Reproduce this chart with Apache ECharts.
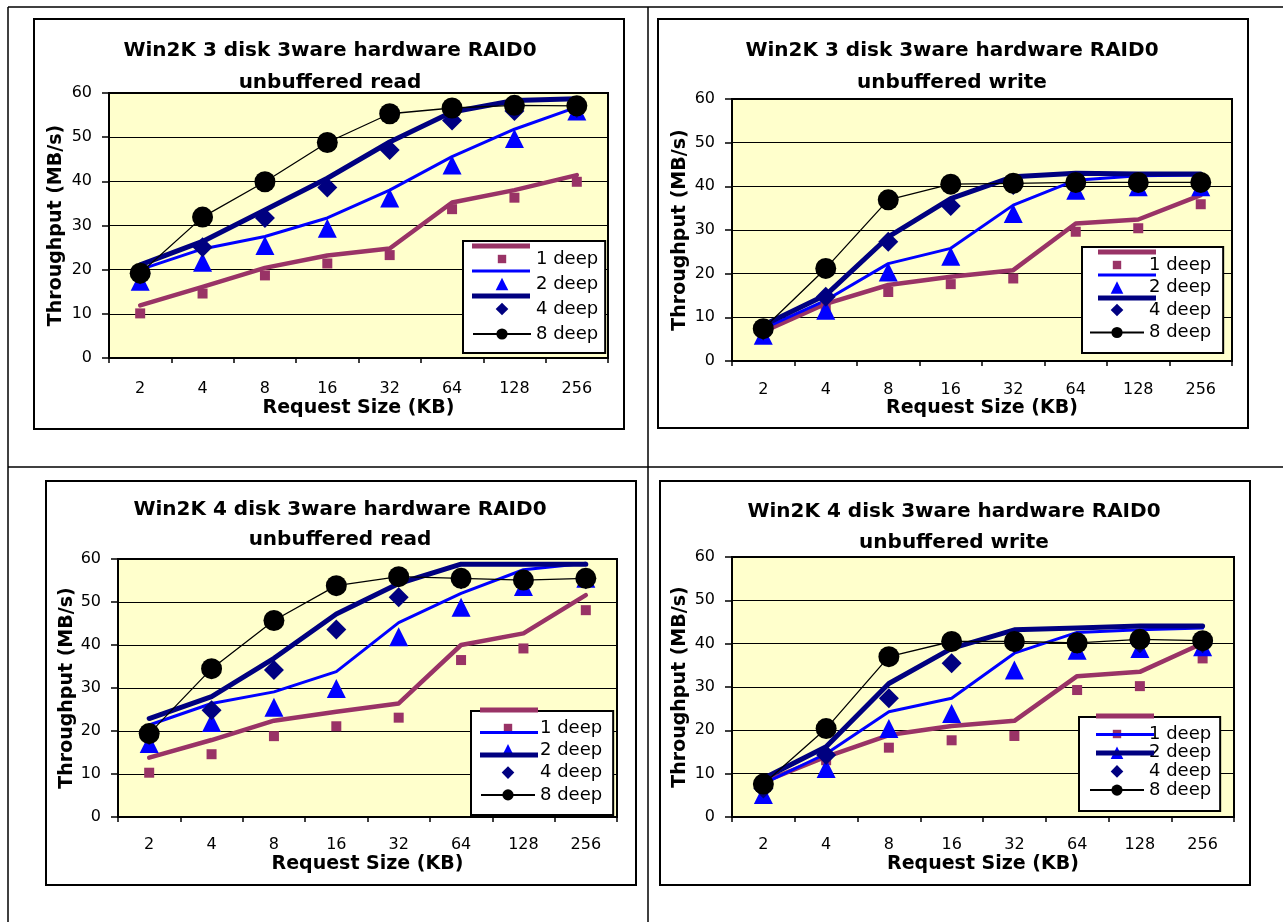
<!DOCTYPE html>
<html>
<head>
<meta charset="utf-8">
<script src="https://cdn.jsdelivr.net/npm/echarts/dist/echarts.min.js"></script>
<style>
html,body{margin:0;padding:0;background:#fff;}
#c{position:absolute;left:0;top:0;width:1283px;height:922px;}
</style>
</head>
<body>
<div id="c"></div>
<script>
// ---------------- DATA ----------------
const categories = ['2', '4', '8', '16', '32', '64', '128', '256'];
const depthNames = ['1 deep', '2 deep', '4 deep', '8 deep'];
const yMin = 0, yMax = 60, yStep = 10;
const xAxisName = 'Request Size (KB)';
const yAxisName = 'Throughput (MB/s)';
const chartTitles = [
  'Win2K 3 disk 3ware hardware RAID0\nunbuffered read',
  'Win2K 3 disk 3ware hardware RAID0\nunbuffered write',
  'Win2K 4 disk 3ware hardware RAID0\nunbuffered read',
  'Win2K 4 disk 3ware hardware RAID0\nunbuffered write'
];

// 3 disk, read
const r3_1deep_pts = [10.1, 14.6, 18.7, 21.4, 23.3, 33.7, 36.3, 39.9];
const r3_1deep_fit = [11.9, 16.1, 20.4, 23.2, 24.8, 35.2, 38.0, 41.4];
const r3_2deep_pts = [17.4, 21.7, 25.5, 29.4, 36.2, 43.7, 49.7, 55.9];
const r3_2deep_fit = [20.0, 24.7, 27.5, 31.7, 38.0, 45.6, 51.8, 56.8];
const r3_4deep_pts = [18.9, 25.1, 31.7, 38.6, 47.1, 53.8, 55.9, 56.6];
const r3_4deep_fit = [21.1, 26.4, 33.5, 40.7, 48.9, 55.7, 58.3, 58.7];
const r3_8deep     = [19.2, 31.9, 39.9, 48.8, 55.3, 56.6, 57.2, 57.1];

// 3 disk, write
const w3_1deep_pts = [7.0, 12.4, 15.8, 17.6, 18.9, 29.6, 30.4, 35.9];
const w3_1deep_fit = [6.7, 13.1, 17.4, 19.3, 20.8, 31.5, 32.4, 38.0];
const w3_2deep_pts = [5.9, 11.6, 20.4, 24.0, 33.8, 39.1, 39.9, 39.9];
const w3_2deep_fit = [7.4, 13.9, 22.3, 25.8, 35.7, 41.4, 42.4, 42.6];
const w3_4deep_pts = [7.0, 14.7, 27.3, 35.5, 40.3, 40.8, 40.7, 40.8];
const w3_4deep_fit = [8.2, 15.1, 28.4, 37.2, 42.2, 43.0, 42.8, 42.8];
const w3_8deep     = [7.4, 21.2, 36.9, 40.5, 40.7, 40.9, 40.9, 40.9];

// 4 disk, read
const r4_1deep_pts = [10.3, 14.6, 18.8, 21.1, 23.1, 36.5, 39.2, 48.1];
const r4_1deep_fit = [13.8, 17.9, 22.4, 24.5, 26.4, 40.0, 42.7, 51.6];
const r4_2deep_pts = [17.1, 22.0, 25.5, 29.9, 41.9, 48.8, 53.6, 55.5];
const r4_2deep_fit = [21.4, 26.4, 29.1, 33.8, 45.2, 52.0, 57.5, 59.0];
const r4_4deep_pts = [19.0, 24.8, 34.2, 43.6, 51.1, 55.3, 55.1, 55.3];
const r4_4deep_fit = [22.9, 28.0, 36.9, 47.2, 54.3, 58.8, 58.8, 58.8];
const r4_8deep     = [19.4, 34.5, 45.7, 53.8, 55.9, 55.5, 55.1, 55.5];

// 4 disk, write
const w4_1deep_pts = [7.3, 13.1, 16.0, 17.7, 18.7, 29.3, 30.2, 36.6];
const w4_1deep_fit = [8.1, 13.9, 18.9, 21.0, 22.2, 32.5, 33.5, 40.1];
const w4_2deep_pts = [5.2, 11.2, 20.4, 23.9, 33.9, 38.5, 38.9, 39.3];
const w4_2deep_fit = [7.7, 14.6, 24.3, 27.4, 37.8, 42.6, 43.2, 43.6];
const w4_4deep_pts = [6.6, 14.3, 27.4, 35.5, 40.1, 39.9, 40.1, 40.1];
const w4_4deep_fit = [8.9, 16.2, 30.8, 38.9, 43.2, 43.6, 44.1, 44.1];
const w4_8deep     = [7.6, 20.4, 37.0, 40.5, 40.5, 40.2, 41.0, 40.7];

const panelData = [
  {pts: [r3_1deep_pts, r3_2deep_pts, r3_4deep_pts], fit: [r3_1deep_fit, r3_2deep_fit, r3_4deep_fit], d8: r3_8deep},
  {pts: [w3_1deep_pts, w3_2deep_pts, w3_4deep_pts], fit: [w3_1deep_fit, w3_2deep_fit, w3_4deep_fit], d8: w3_8deep},
  {pts: [r4_1deep_pts, r4_2deep_pts, r4_4deep_pts], fit: [r4_1deep_fit, r4_2deep_fit, r4_4deep_fit], d8: r4_8deep},
  {pts: [w4_1deep_pts, w4_2deep_pts, w4_4deep_pts], fit: [w4_1deep_fit, w4_2deep_fit, w4_4deep_fit], d8: w4_8deep}
];

// ---------------- LAYOUT / STYLE ----------------
const FONT = 'DejaVu Sans';
const colors = ['#993366', '#0000FF', '#000080', '#000000'];
const fitWidths = [4.5, 3, 5];
const ptSymbols = ['rect', 'triangle', 'diamond'];
const ptSizes = [10, 19, 20];

const layouts = [
  {frame: [34, 19, 590, 410], grid: {left: 109, top: 93, width: 499, height: 265},
   titleX: 330, titleTop: 34.5, titleLH: 32, yNameGap: 43, xNameGap: 40.5, xLabelMargin: 23,
   legA: {left: 463, top: 241, itemWidth: 58, itemGap: 7, padding: [9, 7, 10, 9]},
   legB: {left: 472, top: 243.5, itemGap: 20}},
  {frame: [658, 19, 590, 409], grid: {left: 732, top: 99, width: 500, height: 262},
   titleX: 952, titleTop: 34.5, titleLH: 32, yNameGap: 42, xNameGap: 37.5, xLabelMargin: 21,
   legA: {left: 1082, top: 247, itemWidth: 54, itemGap: 4.5, padding: [9, 12, 11.5, 7]},
   legB: {left: 1098, top: 249.5, itemGap: 18}},
  {frame: [46, 481, 590, 404], grid: {left: 118, top: 559, width: 499, height: 258},
   titleX: 340, titleTop: 495, titleLH: 30, yNameGap: 41, xNameGap: 37.5, xLabelMargin: 20,
   legA: {left: 471, top: 711, itemWidth: 54, itemGap: 4.3, padding: [8, 11, 11, 9]},
   legB: {left: 480, top: 707.5, itemGap: 17.5}},
  {frame: [660, 481, 590, 404], grid: {left: 732, top: 557, width: 502, height: 260},
   titleX: 954, titleTop: 496.5, titleLH: 31, yNameGap: 42, xNameGap: 37.5, xLabelMargin: 20,
   legA: {left: 1079, top: 717, itemWidth: 54, itemGap: 0.7, padding: [8, 9, 12, 10]},
   legB: {left: 1096, top: 713.5, itemGap: 13.5}}
];

const ICON_SQ = 'path://M0 0M20 20M4 4H16V16H4Z';
const ICON_TRI = 'path://M0 0M20 20M1 19L10 1L19 19Z';
const ICON_DIA = 'path://M0 0M20 20M10 1L19 10L10 19L1 10Z';
const ICON_THICK = 'path://M0 0H58V5H0Z';
const ICON_THIN = 'path://M0 0M0 5M0 1H58V4H0Z';

const titles = [], grids = [], xAxes = [], yAxes = [], series = [], legends = [], graphics = [];

layouts.forEach((L, i) => {
  titles.push({
    text: chartTitles[i], left: L.titleX, top: L.titleTop, padding: 0,
    textAlign: 'center', textVerticalAlign: 'top',
    textStyle: {fontFamily: FONT, fontSize: 20, fontWeight: 'bold', color: '#000', lineHeight: L.titleLH}
  });
  grids.push(Object.assign({
    show: true, backgroundColor: '#FFFFCC', borderColor: '#000', borderWidth: 2,
    containLabel: false, outerBoundsMode: 'none'
  }, L.grid));
  xAxes.push({
    type: 'category', gridIndex: i, data: categories, boundaryGap: true,
    name: xAxisName, nameLocation: 'middle', nameGap: L.xNameGap, nameMoveOverlap: false,
    nameTextStyle: {fontFamily: FONT, fontSize: 19, fontWeight: 'bold', color: '#000', lineHeight: 19},
    axisLine: {show: true, lineStyle: {color: '#000', width: 2}},
    axisTick: {show: true, length: 5, lineStyle: {color: '#000', width: 1.5}},
    axisLabel: {margin: L.xLabelMargin, fontFamily: FONT, fontSize: 16, color: '#000', interval: 0},
    splitLine: {show: false}
  });
  yAxes.push({
    type: 'value', gridIndex: i, min: yMin, max: yMax, interval: yStep,
    name: yAxisName, nameLocation: 'middle', nameGap: L.yNameGap, nameMoveOverlap: false,
    nameTextStyle: {fontFamily: FONT, fontSize: 19, fontWeight: 'bold', color: '#000', lineHeight: 19},
    axisLine: {show: true, lineStyle: {color: '#000', width: 2}},
    axisTick: {show: true, length: 7, lineStyle: {color: '#000', width: 1.5}},
    axisLabel: {margin: 17, fontFamily: FONT, fontSize: 16, color: '#000'},
    splitLine: {show: true, lineStyle: {color: '#000', width: 1}}
  });

  const d = panelData[i];
  const common = {xAxisIndex: i, yAxisIndex: i, animation: false, silent: true};
  for (let k = 0; k < 3; k++) {
    series.push(Object.assign({}, common, {
      type: 'line', name: depthNames[k] + ' line', data: d.fit[k],
      showSymbol: false, symbol: 'none', color: colors[k], z: 2,
      lineStyle: {width: fitWidths[k], color: colors[k], cap: 'round', join: 'round'}
    }));
  }
  for (let k = 0; k < 3; k++) {
    series.push(Object.assign({}, common, {
      type: 'scatter', name: depthNames[k], data: d.pts[k],
      symbol: ptSymbols[k], symbolSize: ptSizes[k], color: colors[k], z: 3,
      itemStyle: {color: colors[k], opacity: 1}
    }));
  }
  series.push(Object.assign({}, common, {
    type: 'line', name: depthNames[3], data: d.d8,
    symbol: 'circle', symbolSize: 21, showSymbol: true, color: colors[3], z: 4,
    lineStyle: {width: 1.3, color: colors[3]},
    itemStyle: {color: colors[3]}
  }));

  legends.push({
    orient: 'vertical', left: L.legA.left, top: L.legA.top, padding: L.legA.padding,
    itemWidth: L.legA.itemWidth, itemHeight: 14, itemGap: L.legA.itemGap,
    backgroundColor: '#fff', borderColor: '#000', borderWidth: 2, borderRadius: 0,
    selectedMode: false, z: 5,
    textStyle: {fontFamily: FONT, fontSize: 18, lineHeight: 18, color: '#000'},
    data: [
      {name: depthNames[0], icon: ICON_SQ},
      {name: depthNames[1], icon: ICON_TRI},
      {name: depthNames[2], icon: ICON_DIA},
      {name: depthNames[3]}
    ]
  });
  legends.push({
    orient: 'vertical', left: L.legB.left, top: L.legB.top, padding: 0,
    itemWidth: 58, itemHeight: 5, itemGap: L.legB.itemGap,
    backgroundColor: 'transparent', borderWidth: 0, selectedMode: false, z: 6,
    formatter: () => '',
    textStyle: {fontSize: 2, lineHeight: 2},
    data: [
      {name: depthNames[0] + ' line', icon: ICON_THICK},
      {name: depthNames[1] + ' line', icon: ICON_THIN},
      {name: depthNames[2] + ' line', icon: ICON_THICK}
    ]
  });

  graphics.push({
    type: 'rect', silent: true, z: 0,
    shape: {x: L.frame[0], y: L.frame[1], width: L.frame[2], height: L.frame[3]},
    style: {fill: 'none', stroke: '#000', lineWidth: 2}
  });
});

// table rules
const tableLines = [[8, 7, 1283, 7], [8, 7, 8, 922], [648, 7, 648, 922], [8, 467, 1283, 467]];
tableLines.forEach(t => graphics.push({
  type: 'line', silent: true, z: 0,
  shape: {x1: t[0], y1: t[1], x2: t[2], y2: t[3]},
  style: {stroke: '#000', lineWidth: 1.5}
}));

const chart = echarts.init(document.getElementById('c'), null, {renderer: 'canvas'});
chart.setOption({
  animation: false,
  backgroundColor: '#fff',
  textStyle: {fontFamily: FONT},
  title: titles,
  grid: grids,
  xAxis: xAxes,
  yAxis: yAxes,
  legend: legends,
  tooltip: {show: false},
  graphic: graphics,
  series: series
});
</script>
</body>
</html>
